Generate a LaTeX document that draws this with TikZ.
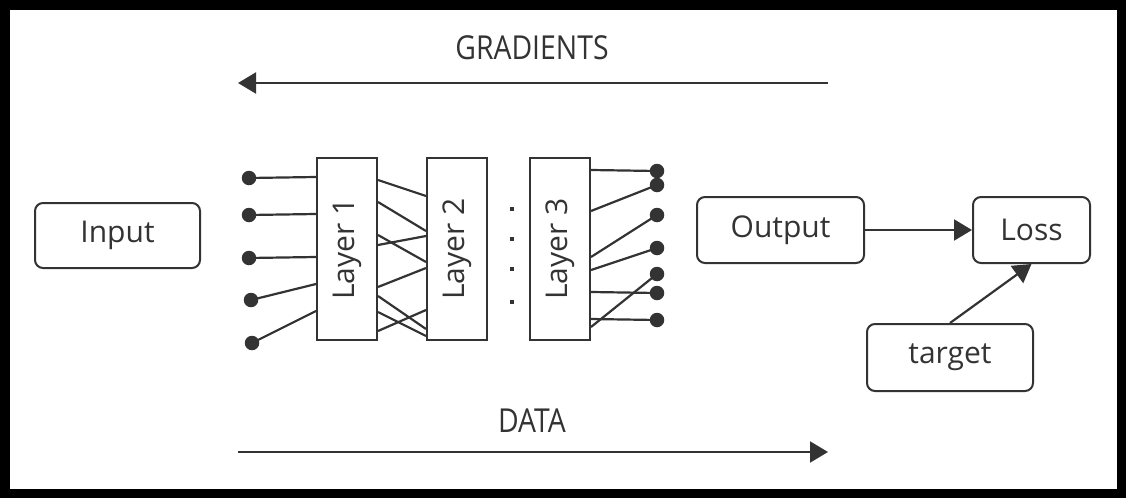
\documentclass[tikz,border=0pt]{standalone}
\usepackage{fontspec}
\setmainfont{Open Sans}
\newfontfamily\bandfont[FakeStretch=0.86]{Open Sans}
\usetikzlibrary{arrows.meta}

\definecolor{ink}{RGB}{51,51,51}

\tikzset{
  box/.style={draw=ink, line width=2pt, rounded corners=8pt, text=ink,
    font=\fontsize{30}{36}\selectfont, inner sep=0pt, anchor=center},
  layerbox/.style={draw=ink, line width=2pt, fill=white, minimum width=60pt,
    minimum height=182pt, inner sep=0pt, text=ink},
  layertext/.style={font=\fontsize{30}{36}\selectfont, rotate=90},
  wire/.style={draw=ink, line width=2.2pt},
  flow/.style={draw=ink, line width=2.2pt, -{Triangle[length=18pt,width=21pt]}},
  terminal/.style={circle, fill=ink, inner sep=0pt, minimum size=14.5pt},
  gap/.style={rectangle, fill=ink, inner sep=0pt, minimum size=4pt},
  band/.style={text=ink, font=\bandfont\fontsize{33}{40}\selectfont}
}

\newcommand\linkLayers[4]{\draw[wire] ([yshift=-#2pt]#1.north east) -- ([yshift=-#4pt]#3.north west);}

\begin{document}
\begin{tikzpicture}[x=1pt, y=-1pt]
  \useasboundingbox (0,0) rectangle (1126,498);
  % frame
  \draw[line width=9.5pt, black, line join=miter] (4.75,5) rectangle (1121.5,493.5);

  % input / output / loss boxes
  \node[box, minimum width=165pt, minimum height=65pt] (input) at (117.5,235.5) {Input};
  \node[box, minimum width=167pt, minimum height=66pt] (output) at (780.5,230) {Output};
  \node[box, minimum width=117pt, minimum height=66pt] (loss) at (1031.5,230) {Loss};
  \node[box, minimum width=166pt, minimum height=67pt] (target) at (950,357.5) {target};

  % layers
  \node[layerbox] (L1) at (347,249) {};
  \node[layerbox] (L2) at (457,249) {};
  \node[layerbox] (L3) at (560,249) {};
  \node[layertext, text=ink] (t1) at (L1) {Layer 1};
  \node[layertext, text=ink] (t2) at (L2) {Layer 2};
  \node[layertext, text=ink] (t3) at (L3) {Layer 3};

  % ellipsis between layer 2 and layer 3
  \foreach \y [count=\i] in {209,239,269,302}
    \node[gap] (g\i) at (512,\y) {};

  % input terminals
  \node[terminal] (d1) at (249,178) {};
  \node[terminal] (d2) at (249,215) {};
  \node[terminal] (d3) at (249,258) {};
  \node[terminal] (d4) at (251,300) {};
  \node[terminal] (d5) at (252,343) {};
  \draw[wire] (d1.center) -- ([yshift=-20pt]L1.north west);
  \draw[wire] (d2.center) -- ([yshift=-57pt]L1.north west);
  \draw[wire] (d3.center) -- ([yshift=-100pt]L1.north west);
  \draw[wire] (d4.center) -- ([yshift=-127pt]L1.north west);
  \draw[wire] (d5.center) -- ([yshift=-154pt]L1.north west);

  % connections layer 1 -> layer 2
  \linkLayers{L1}{23}{L2}{39}
  \linkLayers{L1}{45}{L2}{74}
  \linkLayers{L1}{78}{L2}{105}
  \linkLayers{L1}{88}{L2}{79}
  \linkLayers{L1}{130}{L2}{111}
  \linkLayers{L1}{139}{L2}{172}
  \linkLayers{L1}{155}{L2}{179}
  \linkLayers{L1}{174}{L2}{153}

  % output terminals
  \node[terminal] (r1) at (657,171) {};
  \node[terminal] (r2) at (657,185) {};
  \node[terminal] (r3) at (657,215) {};
  \node[terminal] (r4) at (657,248) {};
  \node[terminal] (r5) at (657,274) {};
  \node[terminal] (r6) at (657,293) {};
  \node[terminal] (r7) at (657,320) {};
  \draw[wire] ([yshift=-13pt]L3.north east) -- (r1.center);
  \draw[wire] ([yshift=-54pt]L3.north east) -- (r2.center);
  \draw[wire] ([yshift=-100pt]L3.north east) -- (r3.center);
  \draw[wire] ([yshift=-113pt]L3.north east) -- (r4.center);
  \draw[wire] ([yshift=-135pt]L3.north east) -- (r6.center);
  \draw[wire] ([yshift=-162pt]L3.north east) -- (r7.center);
  \draw[wire] ([yshift=-170pt]L3.north east) -- (r5.center);

  % loss inputs
  \draw[flow] (output.east) -- (loss.west);
  \draw[flow] (target.north) -- (loss.south);

  % direction bands
  \node[band] (grad) at (532,47.5) {GRADIENTS};
  \coordinate (gfrom) at (828,83);
  \coordinate (gto) at (238,83);
  \draw[flow] (gfrom) -- (gto);

  \node[band] (data) at (532,421) {DATA};
  \coordinate (dfrom) at (238,452);
  \coordinate (dto) at (828,452);
  \draw[flow] (dfrom) -- (dto);
\end{tikzpicture}
\end{document}
